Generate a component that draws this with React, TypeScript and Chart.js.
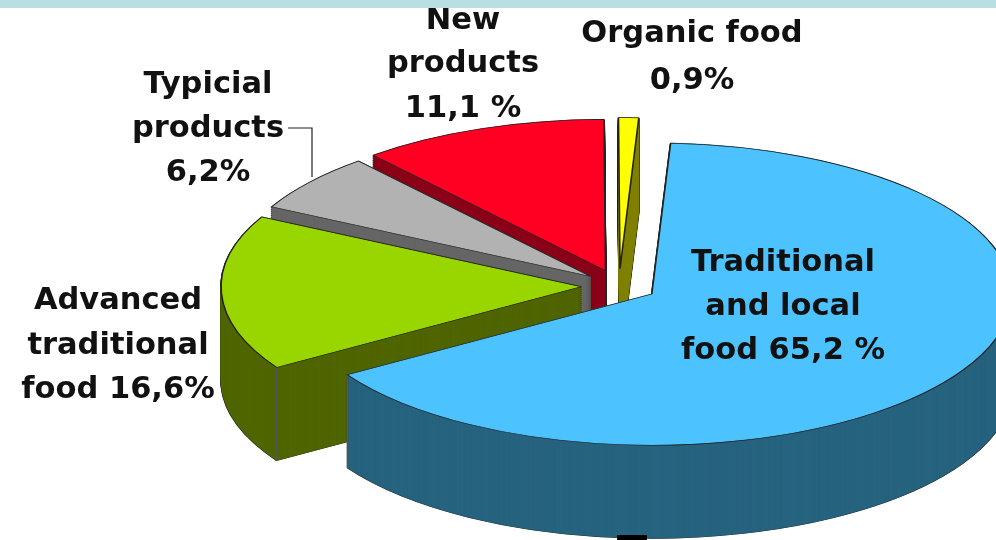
import React, { useEffect, useRef } from "react";
import { Chart, registerables } from "chart.js";

Chart.register(...registerables);

const categories = ["Traditional and local food", "Advanced traditional food", "Typicial products", "New products", "Organic food"];
const shares = [65.2, 16.6, 6.2, 11.1, 0.9];
const topColors = ["#4CC3FF", "#99D600", "#B2B2B2", "#FF0022", "#FFFF00"];
const sideColors = ["#26637F", "#4F6500", "#666666", "#8A0018", "#808000"];
const explode = [38, 38, 36, 39, 41];

const labelLines = [
  ["New", 463, 21], ["products", 463, 64], ["11,1 %", 463, 109],
  ["Organic food", 692, 34], ["0,9%", 692, 81],
  ["Typicial", 208, 85], ["products", 208, 129], ["6,2%", 208, 173],
  ["Advanced", 118, 301], ["traditional", 118, 346], ["food 16,6%", 118, 390],
  ["Traditional", 783, 263], ["and local", 783, 307], ["food 65,2 %", 783, 351],
] as [string, number, number][];

const CX = 619, CY = 286, RADIUS = 360, TILT = 0.42, DEPTH = 93;
const FONT = 'bold 30.5px "DejaVu Sans"';

const pie3d = {
  id: "pie3d",
  beforeDatasetDraw(chart: any, args: any) {
    const ctx = chart.ctx;
    const arcs = chart.getDatasetMeta(args.index).data;
    const paint = (arc: any, i: number, depth: number, fill: string, stroke: string, width: number) => {
      const mid = (arc.startAngle + arc.endAngle) / 2;
      const original = arc.options;
      arc.options = Object.create(original, {
        backgroundColor: { value: fill },
        borderColor: { value: stroke },
        borderWidth: { value: width },
      });
      ctx.save();
      ctx.translate(CX, CY + depth);
      ctx.scale(1, TILT);
      ctx.translate(Math.cos(mid) * explode[i] - arc.x, Math.sin(mid) * explode[i] - arc.y);
      arc.draw(ctx);
      ctx.restore();
      arc.options = original;
    };
    for (let i = arcs.length - 1; i >= 0; i--) {
      const arc = arcs[i];
      for (let d = DEPTH; d >= 0; d -= 2) paint(arc, i, d, "#222", "#222", 2);
      for (let d = DEPTH; d >= 0; d -= 1) paint(arc, i, d, sideColors[i], sideColors[i], 0.7);
      const mid = (arc.startAngle + arc.endAngle) / 2;
      const ox = CX + Math.cos(mid) * explode[i];
      const oy = CY + Math.sin(mid) * explode[i] * TILT;
      ctx.save();
      ctx.strokeStyle = "#555";
      ctx.lineWidth = 1.5;
      [arc.startAngle, arc.endAngle].forEach((a: number) => {
        if (Math.sin(a) <= 0) return;
        const px = ox + Math.cos(a) * arc.outerRadius;
        const py = oy + Math.sin(a) * arc.outerRadius * TILT;
        ctx.beginPath();
        ctx.moveTo(px, py);
        ctx.lineTo(px, py + DEPTH);
        ctx.stroke();
      });
      ctx.restore();
      paint(arc, i, 0, topColors[i], "#222", 1.6);
    }
    return false;
  },
  afterDatasetsDraw(chart: any) {
    const ctx = chart.ctx;
    ctx.save();
    ctx.strokeStyle = "#222";
    ctx.lineWidth = 1.2;
    ctx.beginPath();
    ctx.moveTo(288, 128);
    ctx.lineTo(312, 128);
    ctx.lineTo(312, 177);
    ctx.stroke();
    ctx.fillStyle = "#000";
    ctx.fillRect(617, 535, 30, 5);
    ctx.fillStyle = "#111";
    ctx.font = FONT;
    ctx.textAlign = "center";
    ctx.textBaseline = "middle";
    labelLines.forEach(([text, x, y]) => ctx.fillText(text, x, y));
    ctx.restore();
  },
};

export default function App() {
  const ref = useRef<HTMLCanvasElement>(null);
  useEffect(() => {
    const chart = new Chart(ref.current as HTMLCanvasElement, {
      type: "pie",
      data: {
        labels: categories,
        datasets: [{ data: shares, backgroundColor: topColors, radius: RADIUS }],
      },
      options: {
        responsive: false,
        animation: false,
        rotation: 3,
        layout: { padding: 0 },
        plugins: { legend: { display: false }, tooltip: { enabled: false } },
      },
      plugins: [pie3d],
    } as any);
    return () => chart.destroy();
  }, []);
  return (
    <div style={{ position: "fixed", left: 0, top: 0, width: 996, height: 540, overflow: "hidden", background: "#fff" }}>
      <canvas ref={ref} width={996} height={540} style={{ display: "block" }} />
      <div style={{ position: "absolute", left: 0, top: 0, width: 996, height: 8, background: "#B8E0E0" }} />
    </div>
  );
}
